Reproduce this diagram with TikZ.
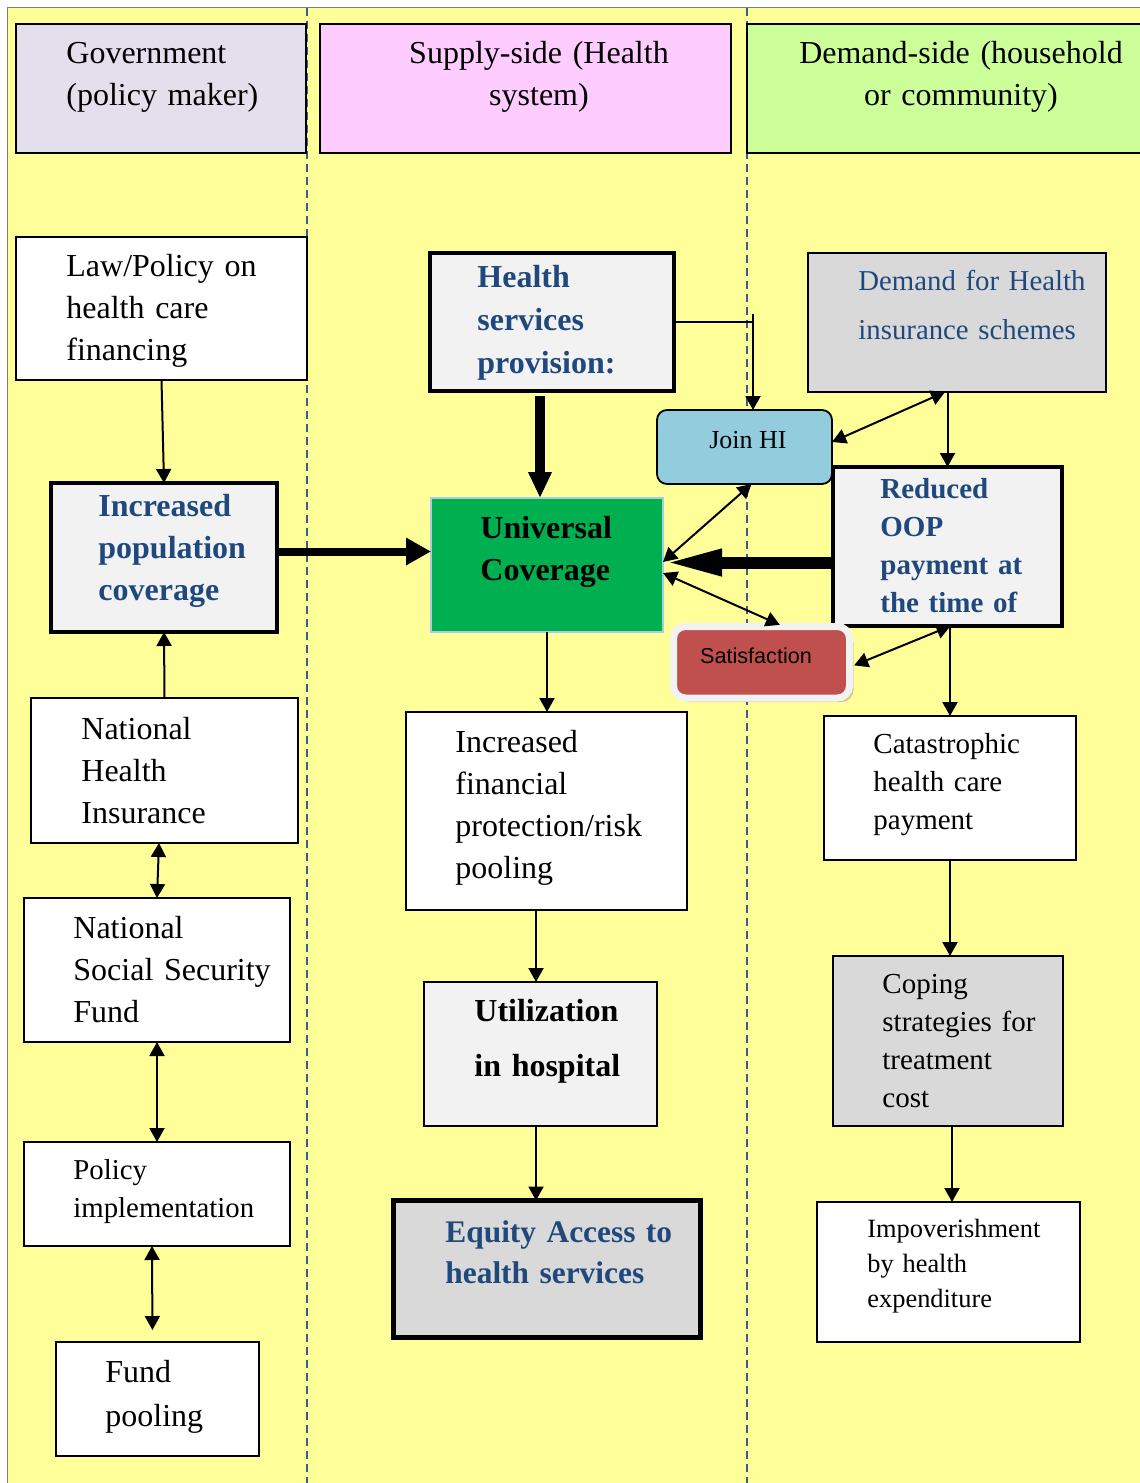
\documentclass[tikz,border=0pt]{standalone}
\usepackage{fontspec}
\setmainfont{Liberation Serif}
\newfontfamily\satfont{Liberation Sans}
\usetikzlibrary{arrows.meta,shadows}

\definecolor{paper}{HTML}{FFFF99}
\definecolor{frame}{HTML}{7F7F7F}
\definecolor{laneblue}{HTML}{385D8A}
\definecolor{govgray}{HTML}{E4DFEC}
\definecolor{supplypink}{HTML}{FFCCFF}
\definecolor{demandgreen}{HTML}{CCFF99}
\definecolor{palegray}{HTML}{F2F2F2}
\definecolor{midgray}{HTML}{D9D9D9}
\definecolor{ucgreen}{HTML}{00B050}
\definecolor{ucedge}{HTML}{A9CCE3}
\definecolor{joinblue}{HTML}{93CDDD}
\definecolor{satred}{HTML}{C0504D}
\definecolor{shadowtan}{HTML}{CDB98A}
\definecolor{titleblue}{HTML}{1F497D}

\begin{document}
\begin{tikzpicture}[x=0.5pt, y=0.5pt]

  \tikzset{
    lane line/.style={draw=laneblue, line width=1pt, dash pattern=on 4pt off 2.5pt},
    plain box/.style={draw=black, line width=0.9pt, inner sep=0, outer sep=0},
    heavy box/.style={plain box, line width=2pt},
    box text/.style={anchor=base west, inner sep=0, text width=160pt, align=left,
      font=\fontsize{16}{21}\selectfont},
    head text/.style={anchor=base, inner sep=0, text width=200pt, align=center,
      font=\fontsize{16}{21}\selectfont},
    blue text/.style={text=titleblue, font=\fontsize{16}{21}\selectfont\bfseries},
    link/.style={line width=1pt, -{Triangle[length=7pt,width=7.5pt]}},
    both link/.style={line width=1pt,
      {Triangle[length=7pt,width=7.5pt]}-{Triangle[length=7pt,width=7.5pt]}},
  }

  \path[use as bounding box, fill=white] (0,0) rectangle (1140,-1483);
  \draw[frame, fill=paper, line width=0.8pt] (7.5,-7.5) rectangle (1150,-1495);

  \foreach \x in {307,747} {
    \draw[lane line] (\x,-8) -- (\x,-1483);
  }

  \node[plain box, fill=govgray, minimum width=145pt, minimum height=64.5pt] (gov) at (161,-88.5) {};
  \node[plain box, fill=supplypink, minimum width=205.5pt, minimum height=64.5pt] (supply) at (525.5,-88.5) {};
  \node[plain box, fill=demandgreen, minimum width=201.5pt, minimum height=64.5pt] (demand) at (948.5,-88.5) {};
  \node[box text] at (66,-63) {Government\\(policy maker)};
  \node[head text] at (539,-63) {Supply-side (Health\\system)};
  \node[head text] at (961,-63) {Demand-side (household\\or community)};

  \node[plain box, fill=white, minimum width=145.5pt, minimum height=71.5pt] (law) at (161.5,-308.5) {};
  \node[box text] at (66,-276) {Law/Policy on\\health care\\financing};
  \node[heavy box, fill=palegray, minimum width=113pt, minimum height=74.5pt] (incpop) at (164,-557.5) {};
  \node[box text, blue text] at (98,-516) {Increased\\population\\coverage};
  \node[plain box, fill=white, minimum width=133.5pt, minimum height=72.5pt] (nhi) at (164.5,-770.5) {};
  \node[box text] at (81,-739) {National\\Health\\Insurance};
  \node[plain box, fill=white, minimum width=133pt, minimum height=72pt] (nssf) at (157,-970) {};
  \node[box text] at (73,-938) {National\\Social Security\\Fund};
  \node[plain box, fill=white, minimum width=133pt, minimum height=52pt] (policy) at (157,-1194) {};
  \node[box text, font=\fontsize{14.4}{19}\selectfont] at (73,-1179) {Policy\\implementation};
  \node[plain box, fill=white, minimum width=101.5pt, minimum height=57pt] (fund) at (157.5,-1399) {};
  \node[box text, font=\fontsize{16}{22}\selectfont] at (105,-1382) {Fund\\pooling};

  \node[heavy box, fill=palegray, minimum width=122pt, minimum height=69pt] (hsp) at (552,-322) {};
  \node[box text, blue text, font=\fontsize{16}{21.5}\selectfont\bfseries] at (477,-287) {Health\\services\\provision:};
  \node[plain box, draw=ucedge, fill=ucgreen, minimum width=116pt, minimum height=67pt] (uc) at (547,-565) {};
  \node[box text, font=\fontsize{16}{21}\selectfont\bfseries] at (480,-538) {Universal\\Coverage};
  \node[plain box, fill=white, minimum width=140.5pt, minimum height=99pt] (ifp) at (546.5,-811) {};
  \node[box text] at (455,-752) {Increased\\financial\\protection/risk\\pooling};
  \node[plain box, fill=palegray, minimum width=116.5pt, minimum height=72pt] (util) at (540.5,-1054) {};
  \node[box text, font=\fontsize{16}{27.5}\selectfont\bfseries] at (474,-1021) {Utilization\\in hospital};
  \node[plain box, line width=2.7pt, fill=midgray, minimum width=153.5pt, minimum height=68.5pt] (equity) at (547,-1269) {};
  \node[box text, blue text, font=\fontsize{15.7}{20.5}\selectfont\bfseries] at (445,-1242) {Equity Access to\\health services};

  \node[plain box, fill=midgray, minimum width=149pt, minimum height=69.5pt] (dhi) at (957,-322.5) {};
  \node[box text, text=titleblue, font=\fontsize{14.4}{24.5}\selectfont] at (858,-290) {Demand for Health\\insurance schemes};
  \node[plain box, rounded corners=5pt, fill=joinblue, minimum width=87.5pt, minimum height=37pt] (joinhi) at (744.5,-447) {};
  \node[anchor=base, inner sep=0, font=\fontsize{13}{15}\selectfont] at (748,-448) {Join HI};
  \node[heavy box, fill=palegray, minimum width=114.5pt, minimum height=79.5pt] (rop) at (947.5,-546.5) {};
  \node[box text, blue text, font=\fontsize{14.5}{19.15}\selectfont\bfseries] at (880,-498) {Reduced\\OOP\\payment at\\the time of};
  \node[plain box, draw=palegray, line width=3.5pt, rounded corners=6pt, fill=satred,
    drop shadow={shadow xshift=2pt, shadow yshift=-2pt, fill=shadowtan, opacity=.8},
    minimum width=88pt, minimum height=35.75pt] (sat) at (761.5,-662.25) {};
  \node[anchor=base, inner sep=0, font=\satfont\fontsize{10.8}{13}\selectfont] at (756,-663) {Satisfaction};
  \node[plain box, fill=white, minimum width=126pt, minimum height=72pt] (cat) at (950,-788) {};
  \node[box text, font=\fontsize{14.5}{19.15}\selectfont] at (873,-753) {Catastrophic\\health care\\payment};
  \node[plain box, fill=midgray, minimum width=115pt, minimum height=85pt] (coping) at (948,-1041) {};
  \node[box text, font=\fontsize{14.5}{19.15}\selectfont] at (882,-993) {Coping\\strategies for\\treatment\\cost};
  \node[plain box, fill=white, minimum width=131.5pt, minimum height=70pt] (impov) at (948.5,-1272) {};
  \node[box text, font=\fontsize{13.2}{17.5}\selectfont] at (867,-1237) {Impoverishment\\by health\\expenditure};

  \draw[link] (law.south) -- (incpop.north);
  \draw[link] (nhi.north) -- (incpop.south);
  \draw[both link] ([xshift=-2.75pt]nhi.south) -- (nssf.north);
  \draw[both link] (nssf.south) -- (policy.north);
  \draw[both link, shorten >=6pt] ([xshift=-2.5pt]policy.south) -- ([xshift=-2.5pt]fund.north);
  \draw[line width=4pt, -{Triangle[length=12.5pt,width=13pt]}]
    ([yshift=3pt]incpop.east) -- ([yshift=3pt]incpop.east -| uc.west);

  \draw[line width=5pt, -{Triangle[length=13pt,width=11pt]}]
    ([xshift=-6pt,yshift=-2.5pt]hsp.south) -- ([xshift=-6pt]hsp.south |- uc.north);
  \coordinate (drop) at (753,-314);
  \draw[line width=0.8pt] (hsp.east) -- (hsp.east -| drop);
  \draw[link] (drop) -- (drop |- joinhi.north);
  \draw[link] (uc.south) -- (uc.south |- ifp.north);
  \draw[link] ([xshift=-2.25pt]util.north |- ifp.south) -- ([xshift=-2.25pt]util.north);
  \draw[link] ([xshift=-2.25pt]util.south) -- ([xshift=-2.25pt]util.south |- equity.north);

  \draw[both link] ([yshift=2.5pt]joinhi.east) -- ([xshift=-6pt]dhi.south);
  \draw[link] (dhi.south -| rop.north) -- (rop.north);
  \draw[both link] ([xshift=3.5pt]joinhi.south) -- ([yshift=1.5pt]uc.east);
  \draw[line width=6pt, -{Triangle[length=29.5pt,width=12pt]}]
    ([yshift=-8pt]rop.west) -- ([yshift=-8pt]rop.west -| uc.east);
  \draw[both link, shorten >=2pt] ([yshift=-4pt]uc.east) -- ([xshift=11pt]sat.north);
  \draw[both link, shorten <=2.5pt] ([yshift=-2.5pt]sat.east) -- ([xshift=1.5pt]rop.south);
  \draw[link] (rop.south -| cat.north) -- (cat.north);
  \draw[link] (cat.south) -- (cat.south |- coping.north);
  \draw[link] ([xshift=2pt]coping.south) -- ([xshift=2pt]coping.south |- impov.north);

\end{tikzpicture}
\end{document}
